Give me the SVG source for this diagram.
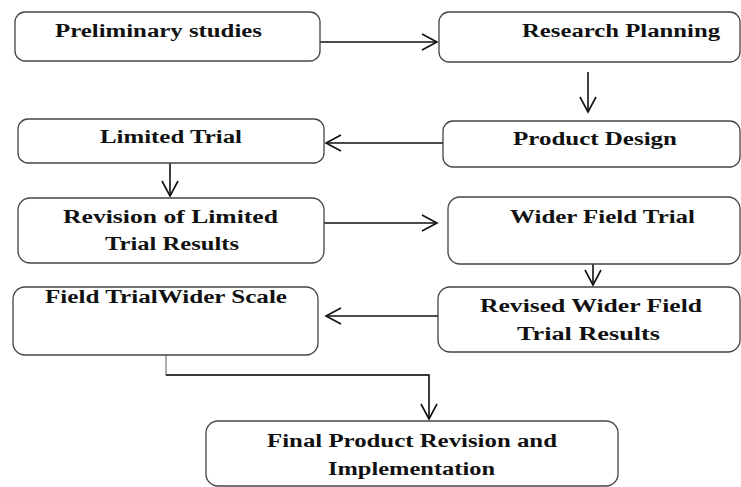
<svg xmlns="http://www.w3.org/2000/svg" width="741" height="487" viewBox="0 0 741 487">
<defs>
<style>
.box{fill:#fff;stroke:#444;stroke-width:1.3}
.t{font-family:"Liberation Serif","Times New Roman",serif;font-size:18px;font-weight:bold;fill:#111}
.c{fill:none;stroke:#111;stroke-width:1.6}
.g{fill:none;stroke:#777;stroke-width:1.2}
</style>
<marker id="ah" viewBox="-16 -10 18 20" refX="0" refY="0" markerWidth="18" markerHeight="20" markerUnits="userSpaceOnUse" orient="auto">
<path d="M-15,-8 L0,0 L-15,8" fill="none" stroke="#111" stroke-width="1.6"/>
</marker>
</defs>
<rect width="741" height="487" fill="#fff"/>
<g id="connectors">
<line class="c" x1="320" y1="42" x2="437" y2="42" marker-end="url(#ah)"/>
<line class="c" x1="588" y1="72" x2="588" y2="112" marker-end="url(#ah)"/>
<line class="c" x1="443" y1="143" x2="326" y2="143" marker-end="url(#ah)"/>
<line class="c" x1="170" y1="163" x2="170" y2="196" marker-end="url(#ah)"/>
<line class="c" x1="324" y1="223" x2="437" y2="223" marker-end="url(#ah)"/>
<line class="c" x1="593" y1="264" x2="593" y2="285" marker-end="url(#ah)"/>
<line class="c" x1="438" y1="316" x2="326" y2="316" marker-end="url(#ah)"/>
<polyline class="g" points="166,355 166,375 429,375"/>
<polyline class="c" points="166,375 429,375 429,419" marker-end="url(#ah)"/>
</g>
<g id="n1"><rect class="box" x="15" y="12" width="305" height="49" rx="10"/><text class="t" x="55" y="37" textLength="207" lengthAdjust="spacingAndGlyphs">Preliminary studies</text></g>
<g id="n2"><rect class="box" x="439" y="12" width="301" height="50" rx="10"/><text class="t" x="522" y="37" textLength="198" lengthAdjust="spacingAndGlyphs">Research Planning</text></g>
<g id="n3"><rect class="box" x="443" y="121" width="297" height="46" rx="10"/><text class="t" x="513" y="145" textLength="164" lengthAdjust="spacingAndGlyphs">Product Design</text></g>
<g id="n4"><rect class="box" x="18" y="119" width="306" height="44" rx="10"/><text class="t" x="100" y="143" textLength="142" lengthAdjust="spacingAndGlyphs">Limited Trial</text></g>
<g id="n5"><rect class="box" x="18" y="198" width="306" height="65" rx="12"/><text class="t" x="63" y="223" textLength="215" lengthAdjust="spacingAndGlyphs">Revision of Limited</text><text class="t" x="105" y="250" textLength="134" lengthAdjust="spacingAndGlyphs">Trial Results</text></g>
<g id="n6"><rect class="box" x="448" y="197" width="292" height="67" rx="12"/><text class="t" x="510" y="223" textLength="185" lengthAdjust="spacingAndGlyphs">Wider Field Trial</text></g>
<g id="n7"><rect class="box" x="438" y="287" width="302" height="65" rx="12"/><text class="t" x="480" y="312" textLength="222" lengthAdjust="spacingAndGlyphs">Revised Wider Field</text><text class="t" x="517" y="340" textLength="143" lengthAdjust="spacingAndGlyphs">Trial Results</text></g>
<g id="n8"><rect class="box" x="13" y="287" width="305" height="68" rx="12"/><text class="t" x="45" y="303" textLength="242" lengthAdjust="spacingAndGlyphs">Field TrialWider Scale</text></g>
<g id="n9"><rect class="box" x="206" y="421" width="412" height="65" rx="12"/><text class="t" x="267" y="447" textLength="290" lengthAdjust="spacingAndGlyphs">Final Product Revision and</text><text class="t" x="328" y="475" textLength="167" lengthAdjust="spacingAndGlyphs">Implementation</text></g>
</svg>
